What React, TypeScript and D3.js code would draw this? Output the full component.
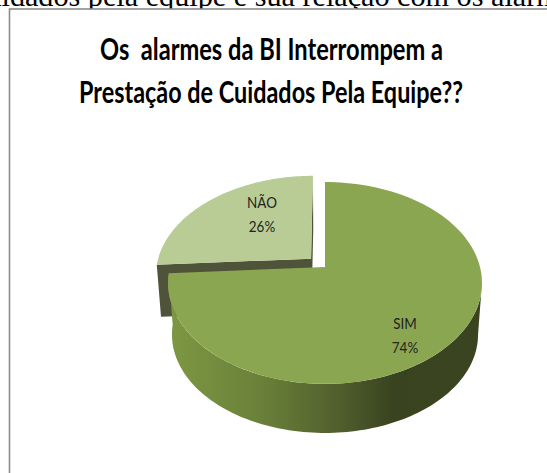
import React from "react";
import * as d3 from "d3";

const categories = ["SIM", "NÃO"];
const values = [74, 26];
const percentLabels = ["74%", "26%"];
const titleLines = ["Os  alarmes da BI Interrompem a", "Prestação de Cuidados Pela Equipe??"];
const caption = "cuidados pela equipe e sua relação com os alarmes";

const W = 547, H = 473;
const cx = 325, cy = 267, K = 155, k = 98.4, p = 0.158;
const depth = 52, shrink = 0.025, explode = 0.125;
const labelPos = [{ x: 405, y: 329 }, { x: 262, y: 208 }];

type P = [number, number];
const project = (u: number, v: number, z = 0): P => {
  const d = 1 + p * v, s = 1 - shrink * z;
  return [cx + (K * u * s) / d, cy - (k * v * s) / d + depth * z];
};

const pie = d3.pie<number>().sort(null).value((d) => d);
const arcs = pie(values);
const line = d3.line<P>();
const onRim = (a: number, du = 0, dv = 0, z = 0) => project(Math.sin(a) + du, Math.cos(a) + dv, z);
const sample = (a0: number, a1: number) => d3.range(0, 121).map((i) => a0 + ((a1 - a0) * i) / 120);

const big = arcs[0];
const small = arcs[1];
const bigTop = line([project(0, 0), ...sample(big.startAngle, big.endAngle).map((a) => onRim(a))]) + "Z";
const wallAngles = sample(Math.PI * 0.55, big.endAngle);
const bigWall =
  line([
    ...wallAngles.map((a) => onRim(a)),
    ...wallAngles.slice().reverse().map((a) => onRim(a, 0, 0, 1)),
  ]) + "Z";

const mid = (small.startAngle + small.endAngle) / 2;
const du = Math.sin(mid) * explode, dv = Math.cos(mid) * explode;
const smallTop = line([project(du, dv), ...sample(small.startAngle, small.endAngle).map((a) => onRim(a, du, dv))]) + "Z";
const smallWall =
  line([
    onRim(small.startAngle, du, dv),
    project(du, dv),
    onRim(small.endAngle, du, dv),
    onRim(small.endAngle, du, dv, 1),
    project(du, dv, 1),
    onRim(small.startAngle, du, dv, 1),
  ]) + "Z";

const wallStops: [string, string][] = [
  ["0", "#7d9843"],
  ["0.3", "#6a8039"],
  ["0.55", "#4f5e2d"],
  ["0.72", "#39431f"],
  ["1", "#3a4421"],
];

export default function App() {
  const font = "Lato, Carlito, sans-serif";
  return (
    <svg width={W} height={H} style={{ position: "absolute", left: 0, top: 0, display: "block", background: "#fff" }}>
      <defs>
        <linearGradient id="wall" x1="0" x2="1" y1="0" y2="0">
          {wallStops.map(([o, c]) => <stop key={o} offset={o} stopColor={c} />)}
        </linearGradient>
      </defs>
      <text x={-27} y={6} fontFamily="'Liberation Serif', serif" fontSize={30.2} fill="#000">{caption}</text>
      <rect x={9.5} y={9} width={W} height={H} fill="#fff" stroke="#8c8c8c" strokeWidth={1.6} />
      <text x={271.5} y={60} textAnchor="middle" fontFamily={font} fontWeight={700} fontSize={30} textLength={343} lengthAdjust="spacingAndGlyphs" fill="#000" style={{ whiteSpace: "pre" }}>{titleLines[0]}</text>
      <text x={271} y={103} textAnchor="middle" fontFamily={font} fontWeight={700} fontSize={30} textLength={384} lengthAdjust="spacingAndGlyphs" fill="#000">{titleLines[1]}</text>
      <path d={smallWall} fill="#4e533a" />
      <path d={smallTop} fill="#b9cc95" />
      <path d={bigWall} fill="url(#wall)" />
      <path d={bigTop} fill="#8ba651" />
      {categories.map((c, i) => (
        <g key={c} fontFamily={font} fontSize={16} fill="#222" textAnchor="middle">
          <text transform={`translate(${labelPos[i].x},${labelPos[i].y}) scale(0.84,1)`}>{c}</text>
          <text transform={`translate(${labelPos[i].x},${labelPos[i].y + 24}) scale(0.84,1)`}>{percentLabels[i]}</text>
        </g>
      ))}
    </svg>
  );
}
